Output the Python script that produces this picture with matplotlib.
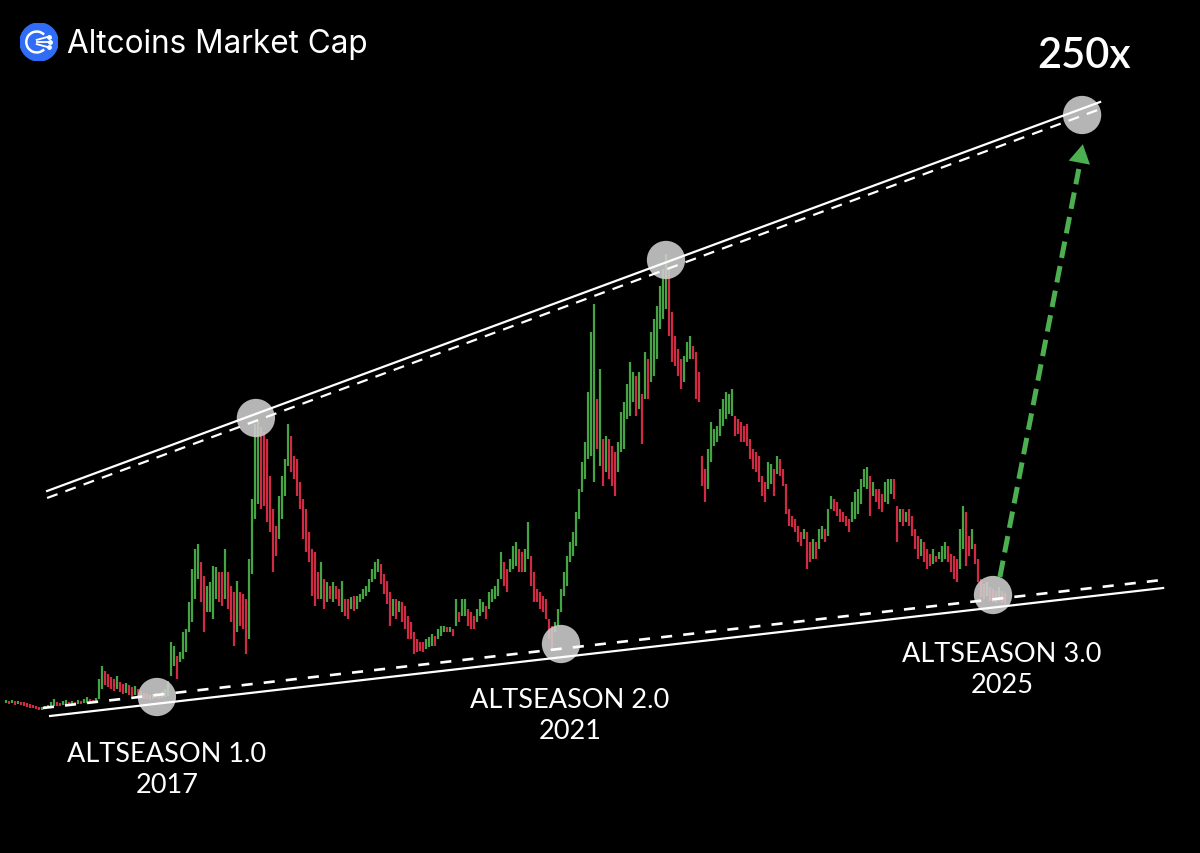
"""
Altcoins market cap - wedge with three altseason lows.
Recreated as a dark chart with thin weekly bars.
"""

import numpy as np
import matplotlib.pyplot as plt
from matplotlib.patches import Circle, Arc

plt.rcParams["lines.scale_dashes"] = False

# ==========================================================
# Data (chart rows, 0 = top of chart)
# ==========================================================

bar_top = [
    701, 702, 701, 702, 702, 703, 703, 704, 705, 706,
    707, 708, 708, 707, 706, 703, 700, 703, 704, 702,
    701, 703, 702, 703, 701, 702, 700, 698, 700, 701,
    699, 680, 667, 672, 675, 678, 680, 677, 683, 685,
    684, 686, 688, 687, 690, 692, 694, 695, 696, 695,
    694, 695, 692, 690, 682, 643, 647, 657, 653, 633,
    630, 603, 570, 550, 545, 563, 577, 587, 583, 567,
    568, 573, 573, 550, 573, 587, 593, 582, 593, 595,
    600, 560, 500, 425, 422, 428, 433, 440, 477, 510,
    527, 497, 477, 460, 425, 437, 457, 460, 483, 500,
    510, 533, 550, 553, 573, 563, 580, 583, 587, 583,
    587, 590, 582, 600, 600, 598, 597, 597, 595, 590,
    587, 580, 570, 563, 560, 565, 575, 582, 593, 600,
    600, 602, 603, 607, 617, 623, 633, 640, 643, 643,
    640, 638, 635, 637, 630, 627, 627, 628, 628, 630,
    600, 613, 600, 600, 610, 613, 617, 610, 600, 603,
    607, 593, 590, 587, 580, 553, 563, 570, 560, 547,
    543, 550, 553, 550, 523, 557, 573, 590, 593, 597,
    600, 620, 627, 623, 610, 590, 573, 557, 543, 533,
    513, 490, 463, 443, 393, 333, 305, 400, 370, 440,
    437, 440, 447, 453, 443, 413, 403, 385, 363, 373,
    377, 373, 395, 353, 360, 333, 320, 307, 287, 270,
    255, 270, 313, 337, 350, 360, 357, 343, 337, 347,
    353, 373, 457, 470, 450, 423, 430, 427, 410, 400,
    393, 395, 390, 417, 420, 423, 427, 425, 440, 450,
    453, 457, 477, 483, 463, 465, 470, 457, 460, 470,
    485, 510, 517, 520, 527, 533, 530, 533, 543, 540,
    543, 530, 527, 530, 510, 497, 500, 503, 510, 513,
    517, 520, 503, 493, 490, 480, 470, 468, 477, 483,
    490, 490, 495, 483, 480, 480, 480, 507, 510, 510,
    513, 510, 517, 530, 537, 540, 543, 550, 555, 550,
    557, 553, 547, 543, 547, 555, 557, 560, 530, 507,
    513, 537, 530, 545, 560, 580, 585, 583, 588, 590,
    592, 588, 592, 594,
]

bar_bottom = [
    704, 705, 704, 706, 705, 706, 707, 708, 709, 709,
    710, 711, 711, 710, 709, 708, 707, 707, 707, 706,
    706, 706, 705, 706, 705, 705, 704, 704, 704, 704,
    703, 700, 690, 686, 688, 690, 692, 690, 693, 695,
    694, 696, 697, 696, 698, 699, 700, 700, 701, 700,
    699, 700, 699, 698, 697, 677, 667, 680, 663, 660,
    653, 633, 623, 600, 580, 603, 633, 613, 613, 620,
    600, 603, 607, 600, 610, 623, 647, 633, 627, 630,
    655, 640, 575, 520, 505, 510, 507, 523, 533, 573,
    557, 540, 520, 497, 467, 473, 480, 497, 510, 540,
    553, 563, 597, 607, 600, 600, 610, 603, 600, 603,
    600, 607, 613, 617, 620, 610, 612, 610, 603, 600,
    597, 593, 583, 580, 573, 585, 595, 605, 627, 617,
    620, 613, 623, 630, 640, 640, 655, 653, 652, 653,
    650, 648, 647, 647, 640, 637, 633, 633, 633, 637,
    627, 623, 617, 617, 627, 630, 630, 623, 617, 613,
    620, 610, 603, 600, 597, 580, 587, 593, 573, 570,
    567, 573, 573, 573, 560, 587, 603, 603, 610, 613,
    620, 640, 652, 633, 627, 613, 597, 587, 563, 557,
    547, 520, 493, 480, 460, 457, 483, 450, 467, 487,
    473, 480, 487, 497, 473, 453, 450, 420, 417, 403,
    417, 410, 445, 400, 400, 383, 377, 360, 330, 320,
    310, 337, 363, 367, 377, 390, 383, 363, 360, 360,
    400, 403, 487, 503, 490, 463, 447, 443, 437, 427,
    420, 415, 417, 437, 435, 443, 443, 447, 460, 470,
    473, 483, 497, 503, 490, 485, 497, 475, 477, 487,
    515, 527, 528, 533, 543, 547, 540, 570, 563, 560,
    560, 550, 540, 543, 537, 510, 512, 517, 523, 523,
    527, 533, 523, 520, 515, 505, 488, 490, 517, 497,
    503, 510, 513, 503, 505, 495, 500, 543, 523, 527,
    523, 527, 537, 550, 560, 557, 563, 570, 567, 565,
    563, 560, 563, 560, 563, 573, 580, 583, 570, 550,
    567, 557, 550, 565, 583, 598, 600, 597, 602, 603,
    604, 602, 604, 605,
]

# trend lines: (bar index, row) at both ends
upper_solid = ([13.7, 364.7], [492, 103])
upper_dashed = ([13.7, 365.7], [499, 109])
lower_solid = ([14.7, 385.7], [717, 589])
lower_dashed = ([12.3, 385.3], [709, 581])

# touch points (bar index, row)
touch_idx = [50.3, 83.3, 185.0, 220.0, 329.0, 358.7]
touch_row = [698, 419, 645, 261, 596, 116]

labels = ["ALTSEASON 1.0\n2017", "ALTSEASON 2.0\n2021", "ALTSEASON 3.0\n2025"]

GREEN = "#45a444"
RED = "#d12a45"

# ==========================================================
# Figure
# ==========================================================

W, H = 1200, 854
fig = plt.figure(figsize=(W / 100, H / 100), dpi=100, facecolor="black")
ax = fig.add_axes([0, 0, 1, 1])
ax.set_facecolor("black")
ax.axis("off")
ax.set_xlim(-2, 398)
ax.set_ylim(854, 0)

top = np.array(bar_top)
bottom = np.array(bar_bottom)
idx = np.arange(len(top))

mid = (top + bottom) / 2
up = np.r_[True, mid[1:] <= mid[:-1]]
colors = np.where(up, GREEN, RED)

ax.vlines(idx, top, bottom, colors=colors, linewidth=1.6, zorder=2)

# touch circles
ax.scatter(touch_idx, touch_row, s=760, color="#cfcfcf", alpha=0.88,
           edgecolors="none", zorder=3)

# wedge lines
ax.plot(*upper_solid, color="white", lw=1.6, zorder=4)
ax.plot(*lower_solid, color="white", lw=1.6, zorder=4)
ax.plot(*upper_dashed, color="white", lw=1.6, dashes=(8, 6), zorder=4)
ax.plot(*lower_dashed, color="white", lw=1.9, dashes=(8, 8), zorder=4)

# ==========================================================
# Green projection arrow
# ==========================================================

start = (331.3, 578)

ax.plot([start[0], 357.6], [start[1], 170], color="#4caf50", lw=3.6,
        dashes=(12, 6), solid_capstyle="butt", zorder=5)
ax.plot(357.9, 157, marker=(3, 0, -10.7), markersize=18,
        color="#4caf50", markeredgewidth=0, zorder=5)

# ==========================================================
# Texts
# ==========================================================

def fx(x):
    return x / W


def fy(y):
    return 1 - y / H


label_pos = [(167, 770), (570, 716), (1002, 670)]
for text, (x, y) in zip(labels, label_pos):
    fig.text(fx(x), fy(y), text, color="white", fontsize=19.5,
             family="Lato", ha="center", va="center", linespacing=1.3)

fig.text(fx(1084), fy(56), "250x", color="white", fontsize=30,
         family="Lato", fontweight="semibold", ha="center", va="center")

fig.text(fx(67), fy(44), "Altcoins Market Cap", color="white",
         fontsize=22.7, family="Inter", ha="left", va="center")

# header icon
icon = fig.add_axes([fx(20), fy(62), 38 / W, 38 / H])
icon.set_xlim(-1, 1)
icon.set_ylim(-1, 1)
icon.set_aspect("equal")
icon.axis("off")
icon.add_patch(Circle((0, 0), 1, color="#2f6df6"))
icon.add_patch(Arc((-0.12, 0), 1.1, 1.1, theta1=45, theta2=315,
                   color="white", lw=1.8))
for ex, ey in [(0.5, 0.28), (0.58, 0.0), (0.5, -0.28)]:
    icon.plot([-0.12, ex], [ey * 0.4, ey], color="white", lw=1.3)
    icon.plot(ex, ey, "o", color="white", ms=2.5)

fig.savefig("out.png", dpi=100, facecolor="black")
